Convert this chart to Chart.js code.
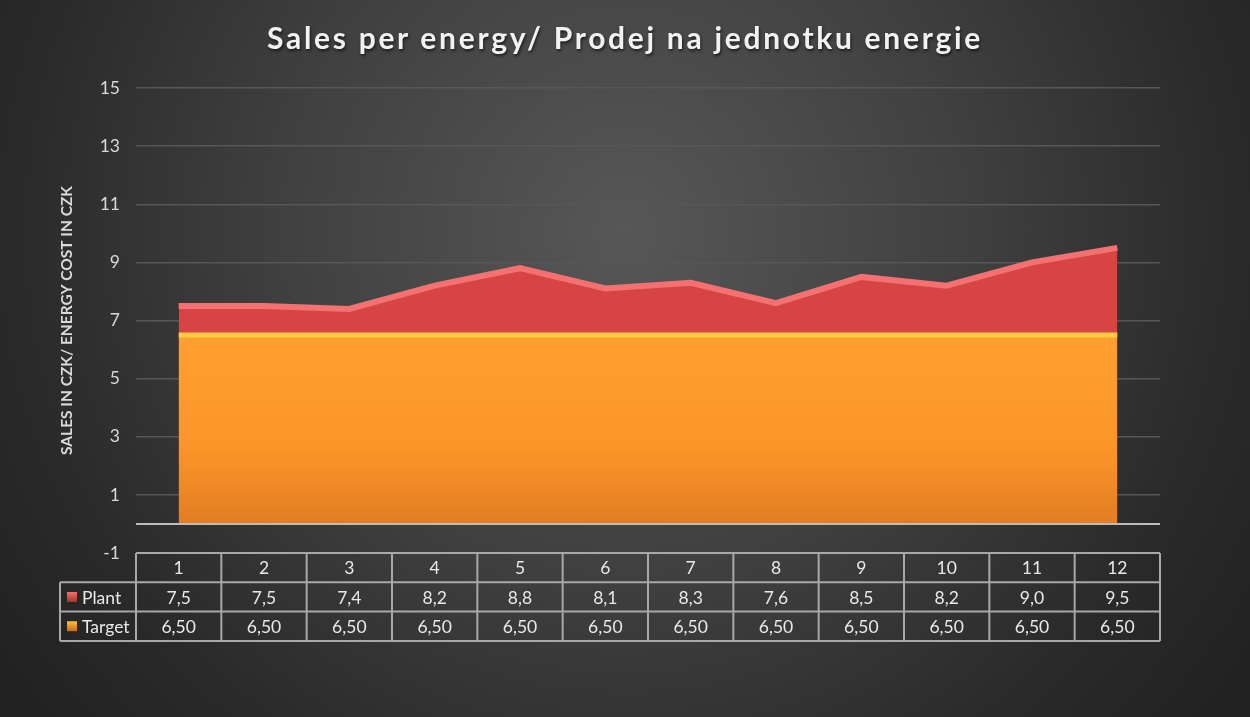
<!DOCTYPE html>
<html>
<head>
<meta charset="utf-8">
<script src="https://cdn.jsdelivr.net/npm/chart.js@4.4.1/dist/chart.umd.min.js"></script>
<style>
  html, body { margin: 0; padding: 0; background: #262626; }
  #wrap { position: relative; width: 1250px; height: 717px; }
  #title {
    position: absolute; left: 0; top: 17px; width: 1250px; height: 40px;
    line-height: 40px; text-align: center;
    font-family: Lato, "Open Sans", sans-serif; font-weight: 700; font-size: 30px;
    letter-spacing: 2.7px; color: #f2f2f2;
    text-shadow: 1px 2px 3px rgba(0,0,0,0.6);
    margin: 0;
  }
  canvas { position: absolute; left: 0; top: 0; }
</style>
</head>
<body>
<div id="wrap">
  <canvas id="c" width="1250" height="717"></canvas>
  <h1 id="title">Sales per energy/ Prodej na jednotku energie</h1>
</div>
<script>
const categories = ["1","2","3","4","5","6","7","8","9","10","11","12"];
const plantValues = [7.5, 7.5, 7.4, 8.2, 8.8, 8.1, 8.3, 7.6, 8.5, 8.2, 9.0, 9.5];
const targetValues = [6.5, 6.5, 6.5, 6.5, 6.5, 6.5, 6.5, 6.5, 6.5, 6.5, 6.5, 6.5];
const yTicks = [-1, 1, 3, 5, 7, 9, 11, 13, 15];
const seriesNames = ["Plant", "Target"];
const yAxisTitle = "SALES IN CZK/ ENERGY COST IN CZK";

const fmtPlant = v => v.toFixed(1).replace('.', ',');
const fmtTarget = v => v.toFixed(2).replace('.', ',');

const bgPlugin = {
  id: 'bg',
  beforeDraw(chart) {
    const ctx = chart.ctx;
    const w = chart.width, h = chart.height;
    ctx.save();
    const g = ctx.createRadialGradient(625, 230, 0, 625, 230, 760);
    g.addColorStop(0, '#575757');
    g.addColorStop(0.45, '#404040');
    g.addColorStop(0.8, '#2a2a2a');
    g.addColorStop(1, '#222222');
    ctx.fillStyle = g;
    ctx.fillRect(0, 0, w, h);
    ctx.restore();
  }
};

const zeroLinePlugin = {
  id: 'zeroLine',
  afterDatasetsDraw(chart) {
    const ctx = chart.ctx;
    const y = chart.scales.y.getPixelForValue(0);
    const a = chart.chartArea;
    ctx.save();
    ctx.strokeStyle = '#bdbdbd';
    ctx.lineWidth = 2;
    ctx.beginPath();
    ctx.moveTo(a.left, y);
    ctx.lineTo(a.right, y);
    ctx.stroke();
    ctx.restore();
  }
};

const tablePlugin = {
  id: 'dataTable',
  afterDraw(chart) {
    const ctx = chart.ctx;
    const xs = chart.scales.x;
    const n = categories.length;
    const half = (xs.getPixelForValue(1) - xs.getPixelForValue(0)) / 2;
    const left = xs.getPixelForValue(0) - half;
    const right = xs.getPixelForValue(n - 1) + half;
    const top = chart.scales.y.getPixelForValue(-1);
    const rowH = 29.3;
    const legendLeft = 60;
    ctx.save();
    ctx.strokeStyle = '#a8a8a8';
    ctx.lineWidth = 2;
    ctx.beginPath();
    ctx.moveTo(left, top); ctx.lineTo(right, top);
    for (let r = 1; r <= 3; r++) {
      ctx.moveTo(legendLeft, top + r * rowH);
      ctx.lineTo(right, top + r * rowH);
    }
    for (let i = 0; i <= n; i++) {
      const x = left + i * 2 * half;
      ctx.moveTo(x, top); ctx.lineTo(x, top + 3 * rowH);
    }
    ctx.moveTo(legendLeft, top + rowH); ctx.lineTo(legendLeft, top + 3 * rowH);
    ctx.stroke();

    ctx.fillStyle = '#e8e8e8';
    ctx.font = '17.5px Lato, "Open Sans", sans-serif';
    ctx.textAlign = 'center';
    ctx.textBaseline = 'middle';
    for (let i = 0; i < n; i++) {
      const cx = xs.getPixelForValue(i);
      ctx.fillText(categories[i], cx, top + rowH * 0.5 + 1);
      ctx.fillText(fmtPlant(plantValues[i]), cx, top + rowH * 1.5 + 1);
      ctx.fillText(fmtTarget(targetValues[i]), cx, top + rowH * 2.5 + 1);
    }
    const keys = [
      {name: seriesNames[0], c1: '#ff6b6b', c2: '#9a3a2a', y: top + rowH * 1.5},
      {name: seriesNames[1], c1: '#ffc13a', c2: '#c8661c', y: top + rowH * 2.5}
    ];
    keys.forEach(k => {
      const g = ctx.createLinearGradient(0, k.y - 5, 0, k.y + 5);
      g.addColorStop(0, k.c1);
      g.addColorStop(1, k.c2);
      ctx.fillStyle = g;
      ctx.fillRect(67, k.y - 5, 10, 10);
      ctx.fillStyle = '#e8e8e8';
      ctx.textAlign = 'left';
      ctx.fillText(k.name, 82, k.y + 1);
    });
    ctx.restore();
  }
};

const ctx = document.getElementById('c').getContext('2d');

function targetFill(context) {
  const chart = context.chart;
  const a = chart.chartArea;
  if (!a) return '#ff9a2e';
  const ys = chart.scales.y;
  const g = chart.ctx.createLinearGradient(0, ys.getPixelForValue(6.5), 0, ys.getPixelForValue(0));
  g.addColorStop(0, '#ffa030');
  g.addColorStop(0.6, '#fb9529');
  g.addColorStop(1, '#e27d22');
  return g;
}

new Chart(ctx, {
  type: 'line',
  data: {
    labels: categories,
    datasets: [
      {
        label: seriesNames[0],
        data: plantValues,
        order: 2,
        fill: 'origin',
        backgroundColor: '#d64444',
        borderColor: '#f57070',
        borderWidth: 6,
        pointRadius: 0,
        tension: 0,
        borderJoinStyle: 'miter'
      },
      {
        label: seriesNames[1],
        data: targetValues,
        order: 1,
        fill: 'origin',
        backgroundColor: targetFill,
        borderColor: '#ffcc44',
        borderWidth: 5,
        pointRadius: 0,
        tension: 0
      }
    ]
  },
  options: {
    responsive: false,
    animation: false,
    events: [],
    layout: { padding: { left: 0, right: 90, top: 88, bottom: 164 } },
    plugins: {
      legend: { display: false },
      tooltip: { enabled: false },
      title: { display: false }
    },
    scales: {
      x: {
        type: 'category',
        display: false,
        offset: true
      },
      y: {
        min: -1,
        max: 15,
        afterBuildTicks(scale) { scale.ticks = yTicks.map(v => ({ value: v })); },
        afterFit(scale) { scale.width = 136; },
        border: { display: false },
        grid: {
          drawTicks: false,
          color: c => (c.tick && c.tick.value === -1) ? 'rgba(0,0,0,0)' : '#575757',
          lineWidth: 1.5
        },
        ticks: {
          color: '#d9d9d9',
          padding: 16,
          font: { family: 'Lato, "Open Sans", sans-serif', size: 17.5 }
        },
        title: {
          display: true,
          text: yAxisTitle,
          color: '#d9d9d9',
          padding: { top: 58, bottom: 0 },
          font: { family: 'Lato, "Open Sans", sans-serif', size: 15.5, weight: 'bold' }
        }
      }
    }
  },
  plugins: [bgPlugin, zeroLinePlugin, tablePlugin]
});
</script>
</body>
</html>
